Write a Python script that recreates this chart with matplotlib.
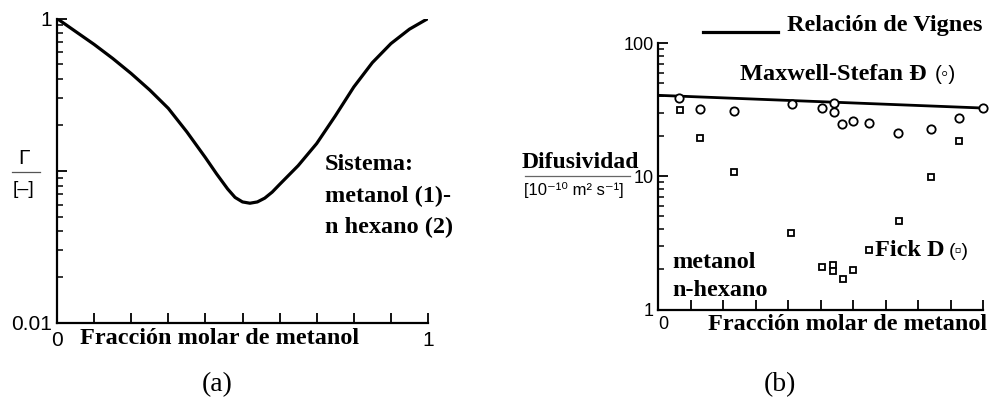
import matplotlib

matplotlib.use("Agg")
import matplotlib.pyplot as plt
import numpy as np
from matplotlib.lines import Line2D
from matplotlib.ticker import FixedLocator, LogLocator, NullFormatter

# (a) thermodynamic factor Gamma vs methanol mole fraction
x_gamma = [0.00, 0.05, 0.10, 0.15, 0.20, 0.25, 0.30, 0.35, 0.40, 0.43, 0.46,
           0.48, 0.50, 0.52, 0.54, 0.56, 0.58, 0.60, 0.65, 0.70, 0.75, 0.80,
           0.85, 0.90, 0.95, 1.00]
gamma = [1.00, 0.822, 0.676, 0.547, 0.435, 0.339, 0.257, 0.180, 0.122, 0.0955,
         0.0759, 0.0668, 0.0624, 0.0612, 0.0624, 0.0661, 0.0724, 0.0813, 0.108,
         0.151, 0.229, 0.355, 0.513, 0.684, 0.851, 1.00]

# (b) diffusivities, 1e-10 m2/s
x_vignes = [0.0, 1.0]
d_vignes = [40.5, 32.5]
x_ms = [0.066, 0.129, 0.234, 0.413, 0.506, 0.542, 0.542, 0.567, 0.601, 0.648,
        0.738, 0.839, 0.925, 1.000]
d_ms = [38.8, 31.7, 30.8, 34.6, 32.4, 35.6, 30.4, 24.5, 25.9, 25.2,
        21.1, 22.8, 27.2, 32.3]
x_fick = [0.068, 0.129, 0.234, 0.409, 0.506, 0.539, 0.539, 0.568, 0.601, 0.650,
          0.742, 0.841, 0.925]
d_fick = [31.2, 19.4, 10.8, 3.75, 2.08, 2.14, 1.93, 1.68, 1.99, 2.78,
          4.59, 9.95, 18.4]

W, H = 994, 405
SERIF = "Liberation Serif"
SANS = ["Liberation Sans", "DejaVu Sans"]
plt.rcParams["font.family"] = SERIF


def fx(px):
    return px / W


def fy(py):
    return 1 - py / H


def style_axes(ax, tick_size):
    for side in ("top", "right"):
        ax.spines[side].set_visible(False)
    for side in ("left", "bottom"):
        ax.spines[side].set_linewidth(1.6)
    ax.tick_params(which="major", direction="in", length=7, width=1.3,
                   labelsize=tick_size)
    ax.tick_params(which="minor", direction="in", length=4.5, width=1.1)
    for lab in ax.get_xticklabels() + ax.get_yticklabels():
        lab.set_family(SANS)


fig = plt.figure(figsize=(W / 100, H / 100), dpi=100)

# ---- (a) ----
ax1 = fig.add_axes([fx(57), fy(323), fx(371), 304.5 / H])
ax1.plot(x_gamma, gamma, color="black", lw=2.3, solid_joinstyle="round")
ax1.set_yscale("log")
ax1.set_xlim(0, 1)
ax1.set_ylim(0.01, 1)
ax1.yaxis.set_major_locator(FixedLocator([0.01, 0.1, 1]))
ax1.set_yticklabels(["0.01", "", "1"])
ax1.yaxis.set_minor_locator(LogLocator(base=10, subs=np.arange(2, 10)))
ax1.yaxis.set_minor_formatter(NullFormatter())
ax1.set_xticks(np.linspace(0, 1, 11))
ax1.set_xticklabels(["0"] + [""] * 9 + ["1"])
style_axes(ax1, 15)
ax1.tick_params(axis="x", pad=6)

fig.text(fx(80), fy(338), "Fracción molar de metanol", fontsize=17.5,
         fontweight="bold", ha="left", va="center")
for i, line in enumerate(["Sistema:", "metanol (1)-", "n hexano (2)"]):
    fig.text(fx(325), fy(165 + 31 * i), line, fontsize=17.5, fontweight="bold",
             ha="left", va="center")
fig.text(fx(24), fy(159), "Γ", family=SANS, fontsize=15, ha="center", va="center")
fig.add_artist(Line2D([fx(12), fx(40)], [fy(172), fy(172)], color="#555555",
                      lw=0.9, transform=fig.transFigure))
fig.text(fx(24), fy(190), "[–]", family=SANS, fontsize=14, ha="center", va="center")
fig.text(fx(217), fy(385), "(a)", fontsize=20, ha="center", va="center")

# ---- (b) ----
ax2 = fig.add_axes([fx(658), fy(309.5), fx(325), 266.5 / H])
ax2.plot(x_vignes, d_vignes, color="black", lw=2.0)
ax2.plot(x_ms, d_ms, ls="none", marker="o", ms=6, mfc="white", mec="black",
         mew=1.3, clip_on=False)
ax2.plot(x_fick, d_fick, ls="none", marker="s", ms=4, mfc="white", mec="black",
         mew=1.3, clip_on=False)
ax2.set_yscale("log")
ax2.set_xlim(0, 1)
ax2.set_ylim(1, 100)
ax2.yaxis.set_major_locator(FixedLocator([1, 10, 100]))
ax2.set_yticklabels(["1", "10", "100"])
ax2.yaxis.set_minor_locator(LogLocator(base=10, subs=np.arange(2, 10)))
ax2.yaxis.set_minor_formatter(NullFormatter())
ax2.set_xticks(np.linspace(0, 1, 11))
ax2.set_xticklabels(["0"] + [""] * 10)
style_axes(ax2, 13)
ax2.tick_params(axis="x", pad=5)
ax2.tick_params(axis="y", pad=3)
ax2.get_xticklabels()[0].set_horizontalalignment("left")

fig.add_artist(Line2D([fx(703), fx(778)], [fy(32), fy(32)], color="black",
                      lw=2.3, transform=fig.transFigure))
fig.text(fx(787), fy(25), "Relación de Vignes", fontsize=17.5, fontweight="bold",
         ha="left", va="center")
fig.text(fx(740), fy(75), "Maxwell-Stefan Đ", fontsize=17.5, fontweight="bold",
         ha="left", va="center")
fig.text(fx(935), fy(75), "(◦)", family=SANS, fontsize=15, ha="left", va="center")
fig.text(fx(875), fy(251), "Fick D", fontsize=17.5, fontweight="bold",
         ha="left", va="center")
fig.text(fx(949), fy(251), "(▫)", family=SANS, fontsize=14, ha="left", va="center")
fig.text(fx(672), fy(262), "metanol", fontsize=17.5, fontweight="bold",
         ha="left", va="center")
fig.text(fx(672), fy(291), "n-hexano", fontsize=17.5, fontweight="bold",
         ha="left", va="center")
fig.text(fx(708), fy(325), "Fracción molar de metanol", fontsize=17.5,
         fontweight="bold", ha="left", va="center")

fig.text(fx(522), fy(162), "Difusividad", fontsize=17, fontweight="bold",
         ha="left", va="center")
fig.add_artist(Line2D([fx(525), fx(630)], [fy(176), fy(176)], color="#666666",
                      lw=0.9, transform=fig.transFigure))
fig.text(fx(524), fy(190), "[10⁻¹⁰ m² s⁻¹]", family=SANS, fontsize=12,
         ha="left", va="center")
fig.text(fx(780), fy(385), "(b)", fontsize=20, ha="center", va="center")

fig.savefig("out.png", dpi=100)
